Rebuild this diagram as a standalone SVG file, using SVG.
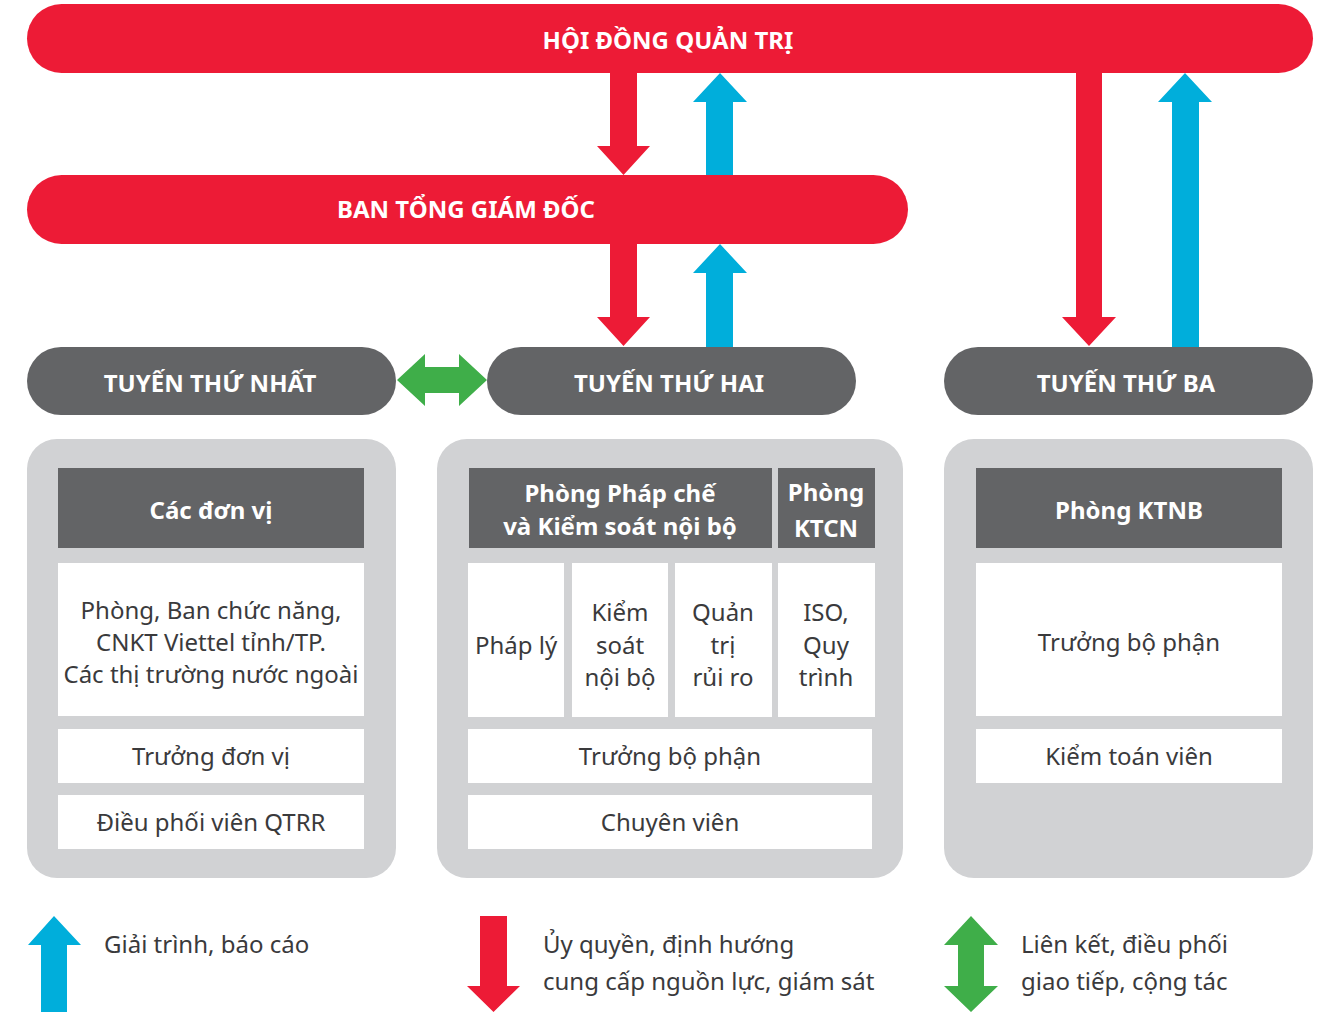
<svg xmlns="http://www.w3.org/2000/svg" width="1322" height="1012" viewBox="0 0 1322 1012">
<style>
.red{fill:#ED1B36}
.blue{fill:#00AEDB}
.green{fill:#3FAE49}
.dark{fill:#636466}
.panel{fill:#D1D2D4}
.white{fill:#FFFFFF}
text{font-family:"Noto Sans","Open Sans","DejaVu Sans",sans-serif;font-size:24px;text-anchor:middle}
.tb{fill:#FFFFFF;font-weight:bold}
.tn{fill:#3A3A3C}
.tl{fill:#3A3A3C;text-anchor:start}
</style>
<rect width="1322" height="1012" fill="#FFFFFF"/>

<g id="hdqt">
<rect class="red" x="27" y="4" width="1286" height="69" rx="34.5"/>
<text class="tb" x="668" y="49">HỘI ĐỒNG QUẢN TRỊ</text>
</g>
<g id="btgd">
<rect class="red" x="27" y="175" width="881" height="69" rx="34.5"/>
<text class="tb" x="466" y="218">BAN TỔNG GIÁM ĐỐC</text>
</g>
<g id="tuyen1">
<rect class="dark" x="27" y="347" width="369" height="68" rx="34"/>
<text class="tb" x="210" y="392">TUYẾN THỨ NHẤT</text>
</g>
<g id="tuyen2">
<rect class="dark" x="487" y="347" width="369" height="68" rx="34"/>
<text class="tb" x="669" y="392">TUYẾN THỨ HAI</text>
</g>
<g id="tuyen3">
<rect class="dark" x="944" y="347" width="369" height="68" rx="34"/>
<text class="tb" x="1126" y="392">TUYẾN THỨ BA</text>
</g>

<g id="panel1">
<rect class="panel" x="27" y="439" width="369" height="439" rx="30"/>
<rect class="dark" x="58" y="468" width="306" height="80"/>
<text class="tb" x="211" y="519">Các đơn vị</text>
<rect class="white" x="58" y="563" width="306" height="153"/>
<text class="tn" x="211" y="619">Phòng, Ban chức năng,</text>
<text class="tn" x="211" y="651">CNKT Viettel tỉnh/TP.</text>
<text class="tn" x="211" y="683">Các thị trường nước ngoài</text>
<rect class="white" x="58" y="729" width="306" height="54"/>
<text class="tn" x="211" y="765">Trưởng đơn vị</text>
<rect class="white" x="58" y="795" width="306" height="54"/>
<text class="tn" x="211" y="831">Điều phối viên QTRR</text>
</g>

<g id="panel2">
<rect class="panel" x="437" y="439" width="466" height="439" rx="30"/>
<rect class="dark" x="469" y="468" width="303" height="80"/>
<text class="tb" x="620" y="502">Phòng Pháp chế</text>
<text class="tb" x="620" y="535">và Kiểm soát nội bộ</text>
<rect class="dark" x="778" y="468" width="97" height="80"/>
<text class="tb" x="826" y="501">Phòng</text>
<text class="tb" x="826" y="537">KTCN</text>
<rect class="white" x="468" y="563" width="96" height="154"/>
<text class="tn" x="516" y="654">Pháp lý</text>
<rect class="white" x="572" y="563" width="96" height="154"/>
<text class="tn" x="620" y="621">Kiểm</text>
<text class="tn" x="620" y="654">soát</text>
<text class="tn" x="620" y="686">nội bộ</text>
<rect class="white" x="675" y="563" width="97" height="154"/>
<text class="tn" x="723" y="621">Quản</text>
<text class="tn" x="723" y="654">trị</text>
<text class="tn" x="723" y="686">rủi ro</text>
<rect class="white" x="778" y="563" width="97" height="154"/>
<text class="tn" x="826" y="621">ISO,</text>
<text class="tn" x="826" y="654">Quy</text>
<text class="tn" x="826" y="686">trình</text>
<rect class="white" x="468" y="729" width="404" height="54"/>
<text class="tn" x="670" y="765">Trưởng bộ phận</text>
<rect class="white" x="468" y="795" width="404" height="54"/>
<text class="tn" x="670" y="831">Chuyên viên</text>
</g>

<g id="panel3">
<rect class="panel" x="944" y="439" width="369" height="439" rx="30"/>
<rect class="dark" x="976" y="468" width="306" height="80"/>
<text class="tb" x="1129" y="519">Phòng KTNB</text>
<rect class="white" x="976" y="563" width="306" height="153"/>
<text class="tn" x="1129" y="651">Trưởng bộ phận</text>
<rect class="white" x="976" y="729" width="306" height="54"/>
<text class="tn" x="1129" y="765">Kiểm toán viên</text>
</g>

<g id="connectors">
<!-- HDQT -> BTGD -->
<polygon class="red" points="610,73 637,73 637,146 650,146 623.5,175 597,146 610,146"/>
<polygon class="blue" points="706,175 733,175 733,102 747,102 720,73 693,102 706,102"/>
<!-- BTGD -> Tuyen 2 -->
<polygon class="red" points="610,244 637,244 637,317 650,317 623.5,346 597,317 610,317"/>
<polygon class="blue" points="706,347 733,347 733,273 747,273 720,244 693,273 706,273"/>
<!-- HDQT -> Tuyen 3 -->
<polygon class="red" points="1076,73 1102,73 1102,317 1116,317 1089,346 1062,317 1076,317"/>
<polygon class="blue" points="1172,347 1199,347 1199,102 1212,102 1185,73 1158,102 1172,102"/>
<!-- Tuyen 1 <-> Tuyen 2 -->
<polygon class="green" points="397,380 425,354 425,367 459,367 459,354 487,380 459,406 459,393 425,393 425,406"/>
</g>

<g id="legend">
<polygon class="blue" points="41,1012 67,1012 67,945 81,945 54,916 28,945 41,945"/>
<text class="tl" x="104" y="953">Giải trình, báo cáo</text>
<polygon class="red" points="480,916 507,916 507,986 520,986 493.5,1012 467,986 480,986"/>
<text class="tl" x="543" y="953">Ủy quyền, định hướng</text>
<text class="tl" x="543" y="990">cung cấp nguồn lực, giám sát</text>
<polygon class="green" points="971,916 998,945 984,945 984,986 998,986 971,1012 944,986 958,986 958,945 944,945"/>
<text class="tl" x="1021" y="953">Liên kết, điều phối</text>
<text class="tl" x="1021" y="990">giao tiếp, cộng tác</text>
</g>
</svg>
